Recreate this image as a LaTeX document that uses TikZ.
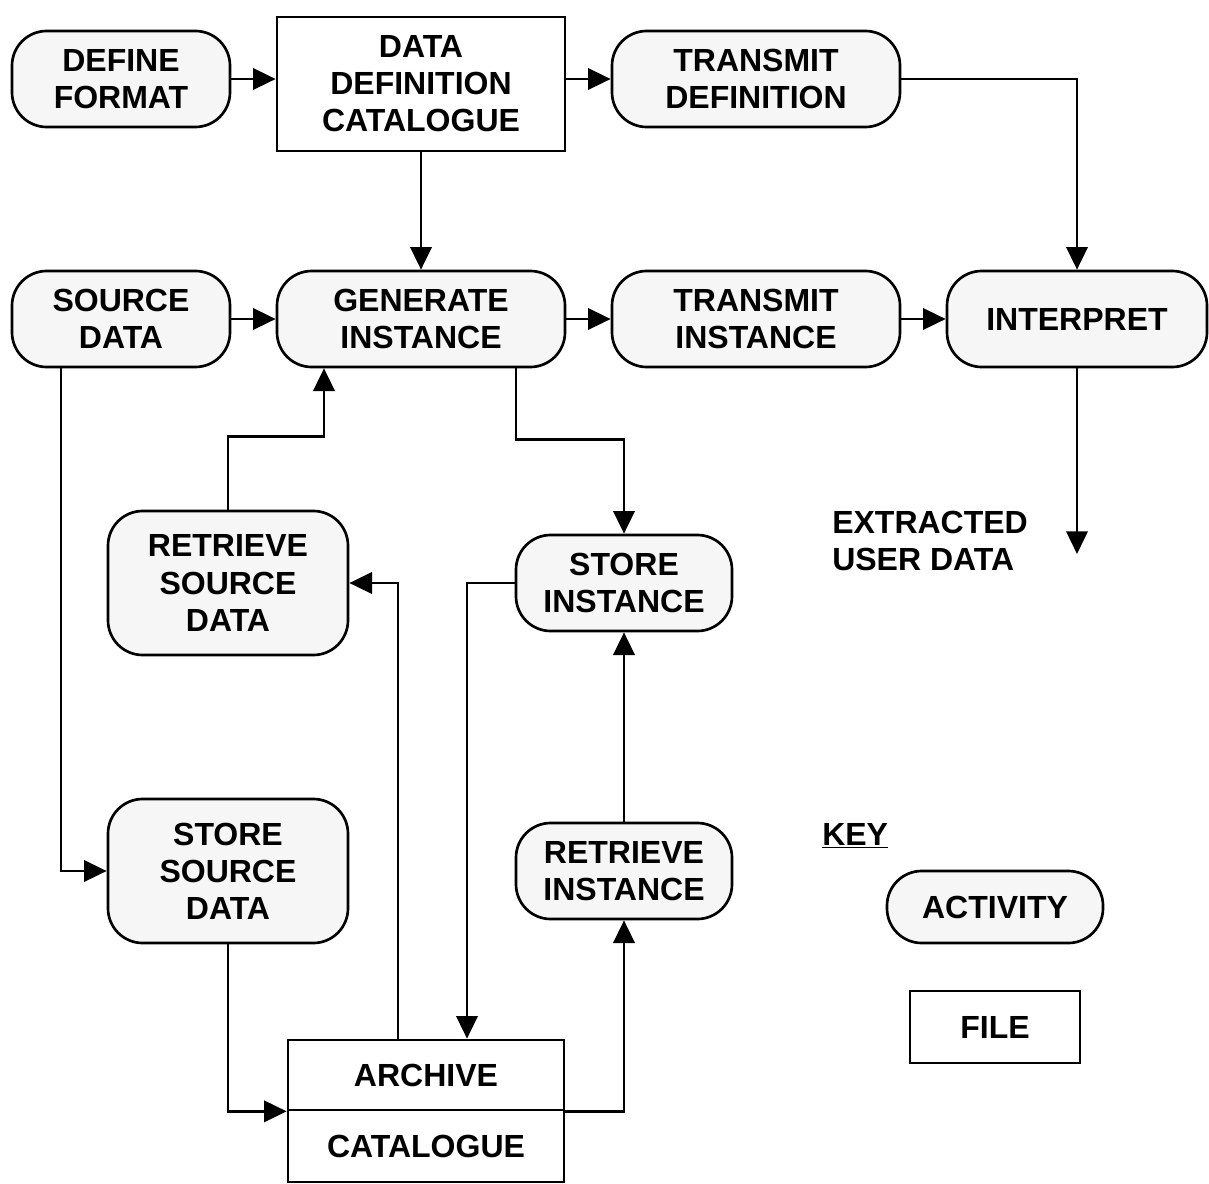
\documentclass[tikz,border=0pt]{standalone}
\usepackage{fontspec}
\setmainfont{Liberation Sans}
\usetikzlibrary{arrows.meta}
\definecolor{boxfill}{RGB}{246,246,246}
\begin{document}
\begin{tikzpicture}[x=0.75pt,y=-0.75pt,
  lbl/.style={font=\fontsize{24}{27.8}\selectfont\bfseries, align=center, inner sep=0pt},
  sz/.style 2 args={minimum width={#1*0.75pt}, minimum height={#2*0.75pt}},
  act/.style={lbl, draw, line width=2pt, fill=boxfill, rounded corners=26pt},
  file/.style={lbl, draw, line width=2pt, fill=white},
  arr/.style={line width=2pt, -{Triangle[length=17pt,width=16pt]}},
  ln/.style={line width=2pt}]
\useasboundingbox (0,0) rectangle (1209,1184);
\node[act, sz={218}{96}] (df) at (121,79) {DEFINE\\FORMAT};
\node[file, sz={288}{134}] (ddc) at (421,84) {DATA\\DEFINITION\\CATALOGUE};
\node[act, sz={288}{96}] (td) at (756,79) {TRANSMIT\\DEFINITION};
\node[act, sz={218}{96}] (sd) at (121,319) {SOURCE\\DATA};
\node[act, sz={288}{96}] (gen) at (421,319) {GENERATE\\INSTANCE};
\node[act, sz={288}{96}] (ti) at (756,319) {TRANSMIT\\INSTANCE};
\node[act, sz={260}{96}] (interp) at (1077,319) {INTERPRET};
\node[act, sz={240}{144}] (rsd) at (228,583) {RETRIEVE\\SOURCE\\DATA};
\node[act, sz={216}{96}] (si) at (624,583) {STORE\\INSTANCE};
\node[act, sz={240}{144}] (ssd) at (228,871) {STORE\\SOURCE\\DATA};
\node[act, sz={216}{96}] (ri) at (624,871) {RETRIEVE\\INSTANCE};
\node[file, sz={276}{70}] (arch) at (426,1075) {ARCHIVE};
\node[file, sz={276}{72}] (cat) at (426,1146) {CATALOGUE};
\node[lbl, anchor=west, align=left] (eud) at (832,541) {EXTRACTED\\USER DATA};
\node[lbl, anchor=west] (key) at (822,836) {\underline{KEY}};
\node[act, sz={216}{72}, rounded corners=26pt] (ka) at (995,907) {ACTIVITY};
\node[file, sz={170}{72}] (kf) at (995,1027) {FILE};
\coordinate (out) at (1077,554);

\draw[arr] (df.east) -- (df.east -| ddc.west);
\draw[arr] (td.west -| ddc.east) -- (td.west);
\draw[arr] (td.east) -| (interp.north);
\draw[arr] (ddc.south) -- (gen.north);
\draw[arr] (sd.east) -- (gen.west);
\draw[arr] (gen.east) -- (ti.west);
\draw[arr] (ti.east) -- (interp.west);
\draw[arr] (interp.south) -- (out);
\draw[arr] ([xshift=-45pt]sd.south) |- (ssd.west);
\draw[arr] (rsd.north) -- ++(0,-73) -| ([xshift=-72.75pt]gen.south);
\draw[arr] ([xshift=71.25pt]gen.south) -- ++(0,71) -| (si.north);
\draw[arr] (si.west) -| ([xshift=30.75pt]arch.north);
\draw[arr] ([xshift=-21pt]arch.north) |- (rsd.east);
\draw[arr] (ssd.south) |- (arch.south west);
\draw[arr] (arch.south east) -| (ri.south);
\draw[arr] (ri.north) -- (si.south);
\end{tikzpicture}
\end{document}
